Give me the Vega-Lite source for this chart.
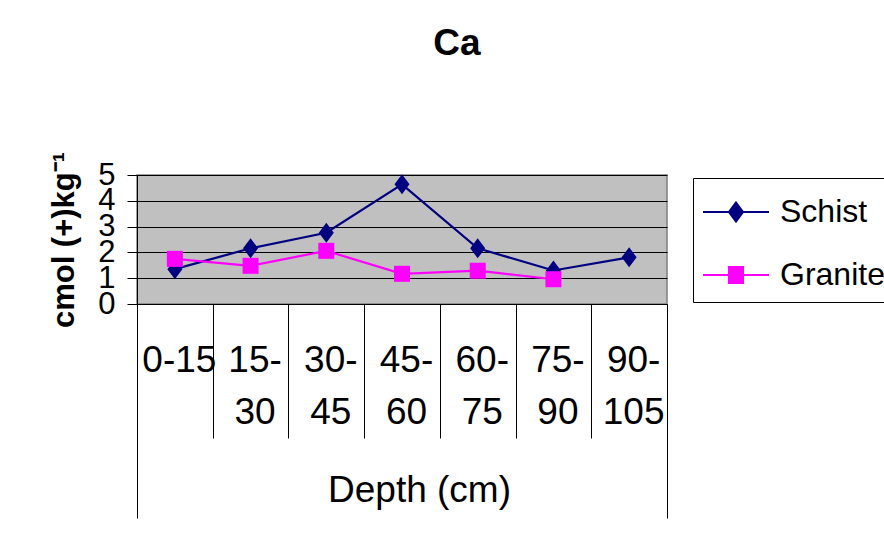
{
  "$schema": "https://vega.github.io/schema/vega-lite/v6.json",
  "width": 530,
  "height": 129,
  "autosize": {"type": "none"},
  "padding": {"left": 137, "top": 175, "right": 217, "bottom": 248},
  "background": "white",
  "config": {
    "font": "Liberation Sans",
    "view": {"fill": "#C0C0C0", "stroke": "#808080", "strokeWidth": 1.5}
  },
  "title": {
    "text": "Ca",
    "fontSize": 37,
    "fontWeight": "bold",
    "color": "black",
    "anchor": "middle",
    "dx": 55,
    "offset": 59,
    "baseline": "alphabetic"
  },
  "layer": [
    {
      "data": {
        "values": [
          {"depth": "0-15", "series": "Schist", "value": 1.35},
          {"depth": "15-30", "series": "Schist", "value": 2.16},
          {"depth": "30-45", "series": "Schist", "value": 2.76},
          {"depth": "45-60", "series": "Schist", "value": 4.64},
          {"depth": "60-75", "series": "Schist", "value": 2.16},
          {"depth": "75-90", "series": "Schist", "value": 1.3},
          {"depth": "90-105", "series": "Schist", "value": 1.81},
          {"depth": "0-15", "series": "Granite", "value": 1.75},
          {"depth": "15-30", "series": "Granite", "value": 1.48},
          {"depth": "30-45", "series": "Granite", "value": 2.06},
          {"depth": "45-60", "series": "Granite", "value": 1.17},
          {"depth": "60-75", "series": "Granite", "value": 1.29},
          {"depth": "75-90", "series": "Granite", "value": 0.96}
        ]
      },
      "encoding": {
        "x": {
          "field": "depth",
          "type": "nominal",
          "sort": ["0-15", "15-30", "30-45", "45-60", "60-75", "75-90", "90-105"],
          "scale": {"type": "band", "paddingInner": 0, "paddingOuter": 0},
          "axis": {
            "orient": "bottom",
            "title": null,
            "domain": false,
            "tickBand": "extent",
            "tickSize": 134,
            "tickColor": "black",
            "tickWidth": 1,
            "labelAngle": 0,
            "labelFontSize": 37,
            "labelColor": "black",
            "labelBaseline": "top",
            "labelAlign": "center",
            "labelPadding": -96,
            "labelOffset": 4,
            "labelLineHeight": 52,
            "labelOverlap": false,
            "labelBound": false,
            "labelFlush": false,
            "labelLimit": 0,
            "labelExpr": "!isString(datum.value) ? '' : (datum.value == '0-15' ? '0-15' : [split(datum.value, '-')[0] + '-', split(datum.value, '-')[1]])"
          }
        },
        "y": {
          "field": "value",
          "type": "quantitative",
          "scale": {"domain": [0, 5], "nice": false, "zero": true},
          "axis": {
            "title": "cmol (+)kg⁻¹",
            "titleFontSize": 31,
            "titleFontWeight": "bold",
            "titleColor": "black",
            "titleX": -64,
            "titleBaseline": "alphabetic",
            "values": [0, 1, 2, 3, 4, 5],
            "grid": true,
            "gridColor": "black",
            "gridWidth": 1,
            "gridOpacity": 1,
            "domain": true,
            "domainColor": "black",
            "tickColor": "black",
            "tickSize": 10,
            "labelFontSize": 31,
            "labelColor": "black",
            "labelPadding": 12,
            "labelOverlap": false,
            "labelFlush": false,
            "labelBound": false
          }
        },
        "color": {
          "field": "series",
          "type": "nominal",
          "scale": {"domain": ["Schist", "Granite"], "range": ["#000080", "#FF00FF"]},
          "legend": {
            "title": null,
            "orient": "none",
            "legendX": 556,
            "legendY": 3,
            "strokeColor": "black",
            "fillColor": "white",
            "padding": 11,
            "symbolSize": 1936,
            "symbolOffset": 9,
            "labelOffset": 21,
            "labelFontSize": 32,
            "labelColor": "black",
            "rowPadding": 24,
            "labelLimit": 0,
            "encode": {
              "symbols": {
                "update": {
                  "shape": {"signal": "datum.value === 'Schist' ? 'M-1.5,0H1.5M0,-0.43L0.32,0L0,0.43L-0.32,0Z' : 'M-1.5,0H1.5M-0.32,-0.36H0.32V0.36H-0.32Z'"},
                  "fill": {"signal": "datum.value === 'Schist' ? '#000080' : '#FF00FF'"},
                  "stroke": {"signal": "datum.value === 'Schist' ? '#000080' : '#FF00FF'"},
                  "strokeWidth": {"value": 2},
                  "opacity": {"value": 1},
                  "fillOpacity": {"value": 1}
                }
              }
            }
          }
        }
      },
      "layer": [
        {"mark": {"type": "line", "strokeWidth": 2.2}},
        {
          "transform": [{"filter": "datum.series === 'Schist'"}],
          "mark": {"type": "point", "filled": true, "opacity": 1, "size": 100, "shape": "M0,-2L1.5,0L0,2L-1.5,0Z"}
        },
        {
          "transform": [{"filter": "datum.series === 'Granite'"}],
          "mark": {"type": "point", "filled": true, "opacity": 1, "size": 100, "shape": "M-1.6,-1.6H1.6V1.6H-1.6Z"}
        }
      ]
    },
    {
      "data": {"values": [{"lvl": "Depth (cm)"}]},
      "mark": {"type": "point", "opacity": 0},
      "encoding": {
        "x": {
          "field": "lvl",
          "type": "nominal",
          "scale": {"type": "band", "paddingInner": 0, "paddingOuter": 0},
          "axis": {
            "orient": "bottom",
            "domain": false,
            "labels": false,
            "tickBand": "extent",
            "tickSize": 214,
            "tickColor": "black",
            "tickWidth": 1,
            "title": "Depth (cm)",
            "titleFontSize": 37,
            "titleFontWeight": "normal",
            "titleColor": "black",
            "titleX": 282,
            "titleY": 197,
            "titleAlign": "center",
            "titleBaseline": "alphabetic"
          }
        }
      }
    }
  ],
  "resolve": {"scale": {"x": "independent"}}
}
